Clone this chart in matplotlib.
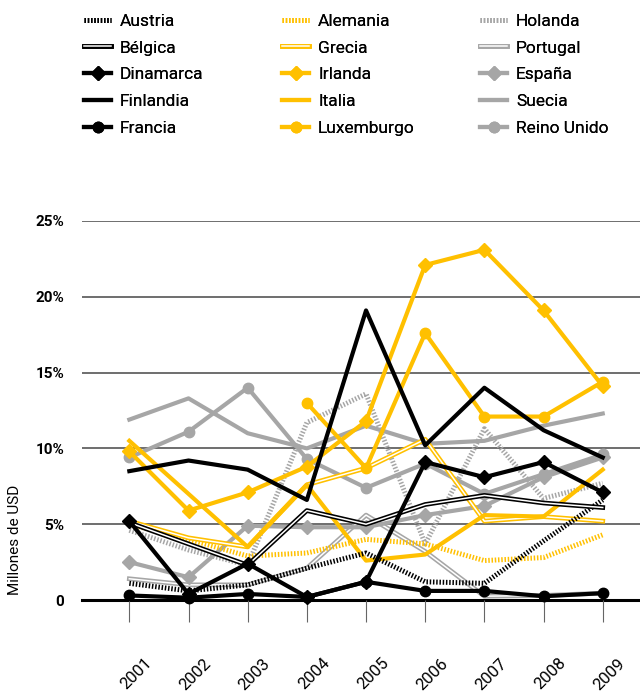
import numpy as np
import matplotlib
matplotlib.use("Agg")
import matplotlib.pyplot as plt
from matplotlib.legend_handler import HandlerTuple
from matplotlib.transforms import ScaledTranslation

plt.rcParams['font.family'] = ['Roboto', 'DejaVu Sans']

years = [2001, 2002, 2003, 2004, 2005, 2006, 2007, 2008, 2009]

# values in %
austria = [1.1, 0.6, 1.0, 2.1, 3.1, 1.2, 1.1, 3.9, 6.6]
belgica = [5.1, 3.7, 2.3, 5.9, 5.0, 6.3, 6.9, 6.4, 6.1]
dinamarca = [5.2, 0.4, 2.4, 0.2, 1.2, 9.1, 8.1, 9.1, 7.1]
finlandia = [8.5, 9.2, 8.6, 6.6, 19.1, 10.2, 14.0, 11.2, 9.4]
francia = [0.3, 0.15, 0.4, 0.2, 1.2, 0.6, 0.6, 0.25, 0.45]

alemania = [5.0, 4.0, 2.9, 3.1, 4.0, 3.7, 2.6, 2.8, 4.3]
grecia = [5.2, 4.1, 3.5, 7.6, 8.7, 10.6, 5.2, 5.5, 5.2]
irlanda = [9.8, 5.9, 7.1, 8.8, 11.8, 22.1, 23.1, 19.1, 14.1]
italia = [10.5, 7.0, 3.5, 7.6, 2.6, 3.0, 5.6, 5.5, 8.6]
luxemburgo = [np.nan, np.nan, np.nan, 13.0, 8.7, 17.6, 12.1, 12.1, 14.4]

holanda = [4.6, 3.3, 2.3, 11.7, 13.6, 3.7, 11.3, 6.7, 7.7]
portugal = [1.4, 1.0, 1.0, 2.1, 5.6, 3.2, 0.25, 0.3, 0.45]
espana = [2.5, 1.5, 4.9, 4.8, 4.8, 5.6, 6.2, 8.1, 9.4]
suecia = [11.9, 13.3, 11.0, 10.0, 11.5, 10.3, 10.5, 11.5, 12.3]
reino_unido = [9.4, 11.1, 14.0, 9.3, 7.4, 9.0, 7.0, 8.3, 9.6]

BLACK = '#000000'
YELLOW = '#FFC000'
GRAY = '#A6A6A6'

# (label, values, colour, kind)
series = [
    ('Holanda', holanda, GRAY, 'hatch'),
    ('Portugal', portugal, GRAY, 'double'),
    ('España', espana, GRAY, 'diamond'),
    ('Suecia', suecia, GRAY, 'solid'),
    ('Reino Unido', reino_unido, GRAY, 'circle'),
    ('Alemania', alemania, YELLOW, 'hatch'),
    ('Grecia', grecia, YELLOW, 'double'),
    ('Irlanda', irlanda, YELLOW, 'diamond'),
    ('Italia', italia, YELLOW, 'solid'),
    ('Luxemburgo', luxemburgo, YELLOW, 'circle'),
    ('Austria', austria, BLACK, 'hatch'),
    ('Bélgica', belgica, BLACK, 'double'),
    ('Dinamarca', dinamarca, BLACK, 'diamond'),
    ('Finlandia', finlandia, BLACK, 'solid'),
    ('Francia', francia, BLACK, 'circle'),
]

fig = plt.figure(figsize=(6.4, 7.0), dpi=100)
ax = fig.add_axes([82 / 640, 1 - 600 / 700, 1 - 82 / 640, (600 - 221) / 700])

LW = 3.0
handles = {}
for label, vals, col, kind in series:
    if kind == 'hatch':
        h, = ax.plot(years, vals, color=col, lw=3.6, ls=(0, (0.3, 0.35)),
                     clip_on=False)
    elif kind == 'double':
        l1, = ax.plot(years, vals, color=col, lw=3.4, clip_on=False)
        l2, = ax.plot(years, vals, color='white', lw=1.1, clip_on=False)
        h = (l1, l2)
    elif kind == 'diamond':
        h, = ax.plot(years, vals, color=col, lw=LW, marker='D', ms=7,
                     clip_on=False)
    elif kind == 'circle':
        h, = ax.plot(years, vals, color=col, lw=LW, marker='o', ms=7.5,
                     clip_on=False)
    else:
        h, = ax.plot(years, vals, color=col, lw=LW, clip_on=False)
    handles[label] = h

ax.set_xlim(2000.2, 2009.63)
ax.set_ylim(0, 25)
ax.set_yticks([0, 5, 10, 15, 20, 25])
ax.set_yticklabels(['0', '5%', '10%', '15%', '20%', '25%'],
                   fontweight='bold', fontsize=11)
ax.tick_params(axis='y', length=0, pad=13)
ax.set_xticks(years)
ax.set_xticklabels([str(y) for y in years], rotation=45, fontsize=12,
                   ha='center')
ax.tick_params(axis='x', length=16, width=0.8, color='#666666', pad=24)
for lab in ax.get_xticklabels():
    lab.set_transform(lab.get_transform() + ScaledTranslation(5 / 72, 0, fig.dpi_scale_trans))

for v in [5, 10, 15, 20, 25]:
    ax.axhline(v, color='#555555', lw=1.2, zorder=0)
for s in ['top', 'right', 'left']:
    ax.spines[s].set_visible(False)
ax.spines['bottom'].set_linewidth(2.2)
ax.spines['bottom'].set_zorder(1)

fig.text(15 / 640, 1 - 595 / 700, 'Millones de USD', rotation=90,
         fontsize=11, ha='center', va='bottom')

cols = [
    ['Austria', 'Bélgica', 'Dinamarca', 'Finlandia', 'Francia'],
    ['Alemania', 'Grecia', 'Irlanda', 'Italia', 'Luxemburgo'],
    ['Holanda', 'Portugal', 'España', 'Suecia', 'Reino Unido'],
]
xs = [82, 280, 478]
for x0, names in zip(xs, cols):
    leg = fig.legend([handles[n] for n in names], names, loc='upper left',
                     bbox_to_anchor=((x0 - 14) / 640, 1 + 2 / 700),
                     frameon=False, fontsize=12.5, handlelength=1.6,
                     handletextpad=0.5, labelspacing=0.67, numpoints=1,
                     handler_map={tuple: HandlerTuple(ndivide=1)})
    fig.add_artist(leg)

fig.savefig('out.png', dpi=100)
